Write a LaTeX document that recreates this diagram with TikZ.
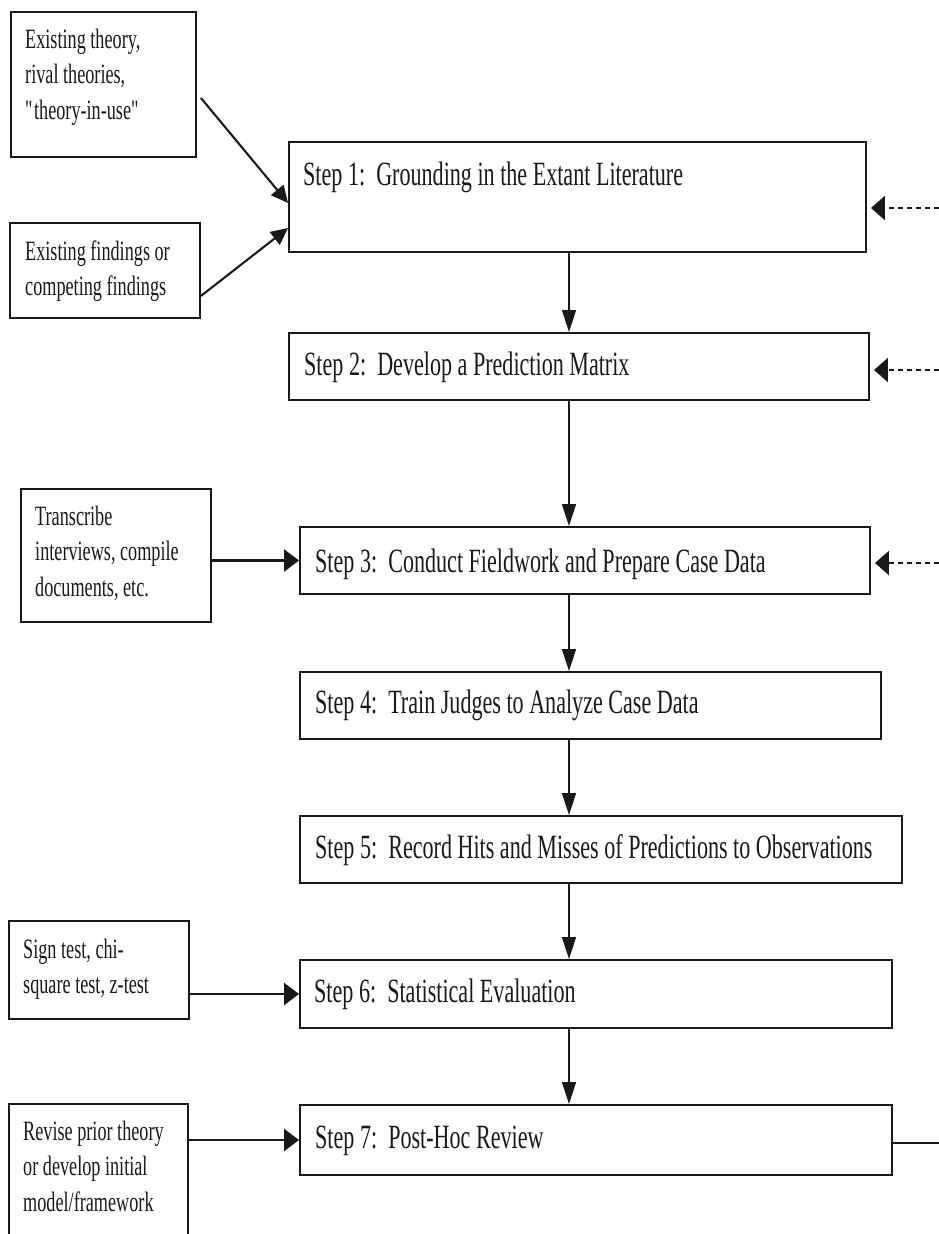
\documentclass[tikz,border=0pt]{standalone}
\usepackage{fontspec}
\setmainfont{Liberation Serif}[FakeStretch=0.65]
\usetikzlibrary{arrows.meta,fit,calc}
\definecolor{ink}{gray}{0.1}
% left-aligned multi-line text whose reference point is the first baseline
\newcommand\sidelines[1]{\begin{tabular}[t]{@{}l@{}}#1\end{tabular}}
\begin{document}
\begin{tikzpicture}[x=1pt,y=-1pt,
  box/.style={draw=ink, line width=1.9pt, inner sep=0pt},
  steptext/.style={font=\fontsize{34}{40}\selectfont, text=ink, inner sep=0pt, anchor=base west},
  sidetext/.style={font=\fontsize{28}{35.5}\selectfont, text=ink, inner sep=0pt, anchor=base west},
  flowdown/.style={draw=ink, line width=1.3pt, -{Triangle[length=22pt,width=14pt]}},
  feedin/.style={draw=ink, line width=2.4pt, -{Triangle[length=15pt,width=22pt]}},
  slantin/.style={draw=ink, line width=2.1pt, -{Triangle[length=17pt,width=16pt]}},
  loopback/.style={draw=ink, line width=2.2pt, dash pattern=on 5.5pt off 3.5pt,
                   shorten >=4pt, -{Triangle[length=14pt,width=24pt]}},
  tail/.style={draw=ink, line width=2.2pt}]
  \clip (0,0) rectangle (939,1234);

  % main sequence of steps
  \node[box, fit={(289,142)(866,252)}]  (S1) {};
  \node[box, fit={(289,333)(869,400)}]  (S2) {};
  \node[box, fit={(300,527)(870,594)}]  (S3) {};
  \node[box, fit={(300,672)(881,739)}]  (S4) {};
  \node[box, fit={(300,816)(902,883)}]  (S5) {};
  \node[box, fit={(300,960)(892,1028)}] (S6) {};
  \node[box, fit={(300,1105)(892,1175)}] (S7) {};

  \node[steptext] (t1) at (303,185)  {Step 1:\ \ Grounding in the Extant Literature};
  \node[steptext] (t2) at (304,375)  {Step 2:\ \ Develop a Prediction Matrix};
  \node[steptext] (t3) at (315,572)  {Step 3:\ \ Conduct Fieldwork and Prepare Case Data};
  \node[steptext] (t4) at (315,713)  {Step 4:\ \ Train Judges to Analyze Case Data};
  \node[steptext] (t5) at (315,858)  {Step 5:\ \ Record Hits and Misses of Predictions to Observations};
  \node[steptext] (t6) at (314,1002) {Step 6:\ \ Statistical Evaluation};
  \node[steptext] (t7) at (315,1148) {Step 7:\ \ Post-Hoc Review};

  % inputs on the left
  \node[box, fit={(11,12)(196,157)}]   (A) {};
  \node[box, fit={(10,223)(200,318)}]  (B) {};
  \node[box, fit={(21,489)(211,622)}]  (C) {};
  \node[box, fit={(9,921)(189,1019)}]  (D) {};
  \node[box, fit={(9,1104)(188,1262)}] (E) {};

  \node[sidetext] (tA) at (25,48)   {\sidelines{Existing theory,\\rival theories,\\{\textquotedbl}\kern-0.09em theory-in-use{\textquotedbl}}};
  \node[sidetext] (tB) at (25,260)  {\sidelines{Existing findings or\\competing findings}};
  \node[sidetext] (tC) at (35,525)  {\sidelines{Transcribe\\interviews, compile\\documents, etc.}};
  \node[sidetext] (tD) at (23,958)  {\sidelines{Sign test, chi-\\square test, z-test}};
  \node[sidetext] (tE) at (23,1140) {\sidelines{Revise prior theory\\or develop initial\\model/framework}};

  % downward flow
  \coordinate (axis) at (569,0);
  \draw[flowdown] (S1.south -| axis) -- (S2.north -| axis);
  \draw[flowdown] (S2.south -| axis) -- (S3.north -| axis);
  \draw[flowdown] (S3.south -| axis) -- (S4.north -| axis);
  \draw[flowdown] (S4.south -| axis) -- (S5.north -| axis);
  \draw[flowdown] (S5.south -| axis) -- (S6.north -| axis);
  \draw[flowdown] (S6.south -| axis) -- (S7.north -| axis);

  % inputs feeding the steps
  \draw[slantin] ($(A.east)+(4,13.5)$) -- ($(S1.west)+(0,6)$);
  \draw[slantin] ($(B.south east)+(0,-23)$) -- ($(S1.west)+(0,31)$);
  \draw[feedin] (C.east |- S3.west) -- (S3.west);
  \draw[feedin] (D.east |- S6.west) -- (S6.west);
  \draw[feedin] (E.east |- S7.west) -- (S7.west);

  % feedback returning from the right
  \coordinate (r1) at (939,208);
  \coordinate (r2) at (939,370);
  \coordinate (r3) at (939,563);
  \coordinate (r7) at (939,1143);
  \draw[loopback] (r1) -- (S1.east |- r1);
  \draw[loopback] (r2) -- (S2.east |- r2);
  \draw[loopback] (r3) -- (S3.east |- r3);
  \draw[tail] (S7.east |- r7) -- (r7);
\end{tikzpicture}
\end{document}
